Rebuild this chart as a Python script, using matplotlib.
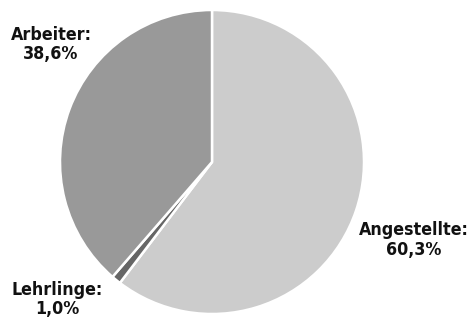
import matplotlib
matplotlib.use("Agg")
import matplotlib.pyplot as plt
from matplotlib import font_manager as fm

categories = ["Angestellte", "Lehrlinge", "Arbeiter"]
values = [60.3, 1.0, 38.6]
value_labels = ["60,3%", "1,0%", "38,6%"]
colors = ["#cccccc", "#666666", "#999999"]

W, H = 470, 318
fig = plt.figure(figsize=(W / 100, H / 100), dpi=100)
ax = fig.add_axes([0, 0, 1, 1])

cx, cy, r = 212, H - 162, 152
ax.pie(values, colors=colors, startangle=90, counterclock=False,
       center=(cx, cy), radius=r, frame=True,
       wedgeprops=dict(edgecolor="white", linewidth=1.8))
ax.set_xlim(0, W)
ax.set_ylim(0, H)
ax.set_aspect("equal")
ax.axis("off")

fp = fm.FontProperties(family="DejaVu Sans", weight="bold", stretch="condensed")
try:
    fpath = fm.findfont(fp, fallback_to_default=True)
    fp = fm.FontProperties(fname=fpath)
except Exception:
    fp = fm.FontProperties(family="DejaVu Sans", weight="bold")

# fit font size so "Arbeiter:" is about 80 px wide
renderer = fig.canvas.get_renderer()
t = ax.text(0, 0, "Arbeiter:", fontproperties=fp, fontsize=10)
w10 = t.get_window_extent(renderer).width
t.remove()
fs = 10 * 80.0 / w10

# label centre x, baseline of first line, baseline of second line (pixels from top)
label_pos = {"Angestellte": (414, 235, 255),
             "Lehrlinge": (57, 295, 314),
             "Arbeiter": (51, 40, 59)}
for cat, lab in zip(categories, value_labels):
    x, y1, y2 = label_pos[cat]
    ax.text(x, H - y1, f"{cat}:", ha="center", va="baseline",
            fontproperties=fp, fontsize=fs, color="#111111")
    ax.text(x, H - y2, lab, ha="center", va="baseline",
            fontproperties=fp, fontsize=fs, color="#111111")

fig.savefig("out.png", dpi=100)
